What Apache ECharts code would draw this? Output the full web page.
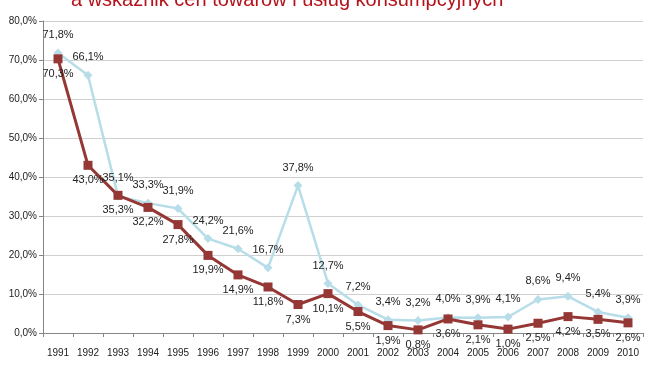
<!DOCTYPE html>
<html><head><meta charset="utf-8">
<script src="https://cdn.jsdelivr.net/npm/echarts@6/dist/echarts.min.js"></script>
<style>html,body{margin:0;padding:0;background:#fff}#c{width:650px;height:365px}</style>
</head><body><div id="c"></div>
<script>
var titleText = 'a wskaźnik cen towarów i usług konsumpcyjnych';
var years = ['1991','1992','1993','1994','1995','1996','1997','1998','1999','2000','2001','2002','2003','2004','2005','2006','2007','2008','2009','2010'];
var blueValues = [71.8,66.1,35.1,33.3,31.9,24.2,21.6,16.7,37.8,12.7,7.2,3.4,3.2,4.0,3.9,4.1,8.6,9.4,5.4,3.9];
var redValues = [70.3,43.0,35.3,32.2,27.8,19.9,14.9,11.8,7.3,10.1,5.5,1.9,0.8,3.6,2.1,1.0,2.5,4.2,3.5,2.6];

function pct(v){ return v.toFixed(1).replace('.', ',') + '%'; }

var chart = echarts.init(document.getElementById('c'), null, {renderer:'canvas'});
chart.setOption({
  animation:false,
  title:{text:titleText, left:66, top:-15, textStyle:{color:'#b5121b', fontSize:20, fontWeight:'normal', fontFamily:'Liberation Sans, Arial, sans-serif'}},
  grid:{left:43, right:7, top:21, bottom:32},
  xAxis:{type:'category', data:years, boundaryGap:true,
    axisLine:{lineStyle:{color:'#868686'}},
    axisTick:{show:true, length:4, lineStyle:{color:'#868686'}},
    axisLabel:{color:'#222', fontSize:10, margin:15, fontFamily:'Liberation Sans, Arial, sans-serif'}},
  yAxis:{type:'value', min:0, max:80, interval:10,
    axisLine:{show:true, lineStyle:{color:'#868686'}},
    axisTick:{show:true, length:4, lineStyle:{color:'#868686'}},
    splitLine:{lineStyle:{color:'#d0d0d0'}},
    axisLabel:{color:'#222', fontSize:10, margin:6, fontFamily:'Liberation Sans, Arial, sans-serif', formatter:function(v){return pct(v);}}},
  series:[
    {type:'line', data:blueValues, symbol:'diamond', symbolSize:9,
      lineStyle:{color:'#b7dde8', width:2.5}, itemStyle:{color:'#b7dde8'},
      label:{show:true, position:'top', distance:8, color:'#222', fontSize:11, fontFamily:'Liberation Sans, Arial, sans-serif', formatter:function(p){return pct(p.value);}}},
    {type:'line', data:redValues, symbol:'rect', symbolSize:9,
      lineStyle:{color:'#953735', width:3}, itemStyle:{color:'#953735'},
      label:{show:true, position:'bottom', distance:5, color:'#222', fontSize:11, fontFamily:'Liberation Sans, Arial, sans-serif', formatter:function(p){return pct(p.value);}}}
  ]
});
</script></body></html>
